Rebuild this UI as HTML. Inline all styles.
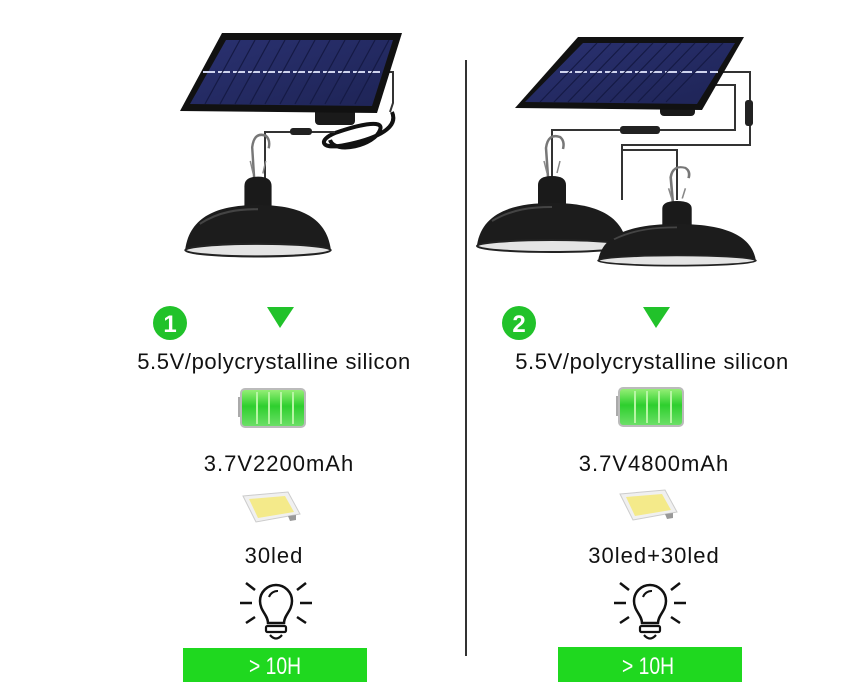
<!DOCTYPE html>
<html><head><meta charset="utf-8"><style>html,body{margin:0;padding:0;background:#fff}svg{display:block}</style></head>
<body>
<svg width="850" height="700" viewBox="0 0 850 700" xmlns="http://www.w3.org/2000/svg" font-family="Liberation Sans, sans-serif">
<defs>
<linearGradient id="cell" x1="0" y1="0" x2="1" y2="1">
<stop offset="0" stop-color="#2a3170"/><stop offset="1" stop-color="#1e2456"/></linearGradient>
<linearGradient id="bat" x1="0" y1="0" x2="0" y2="1">
<stop offset="0" stop-color="#9af07a"/><stop offset="0.45" stop-color="#2ecf2e"/><stop offset="1" stop-color="#6fe06a"/></linearGradient>
<g id="lamp">
<path d="M-4,-26 L-6,-55 Q-4,-70 8,-66 Q13,-62 11,-54" fill="none" stroke="#777" stroke-width="2.5"/>
<path d="M-5,-30 L-8,-42 M5,-30 L8,-42" stroke="#888" stroke-width="1.5"/>
<path d="M-14,2 L-14,-18 Q-14,-27 0,-27 Q14,-27 14,-18 L14,2 Z" fill="#1a1a1a"/>
<path d="M-75,42 C-70,10 -40,0 0,0 C40,0 70,10 75,42 Z" fill="#1c1c1c"/>
<path d="M-60,18 C-40,6 -20,4 0,4" fill="none" stroke="#444" stroke-width="2"/>
<ellipse cx="0" cy="43" rx="75" ry="6" fill="#e4e4e4" stroke="#222" stroke-width="2"/>
</g>
<g id="bulb">
<path d="M-8,14 C-8,6 -16,2 -16,-8 A16,16 0 1 1 16,-8 C16,2 8,6 8,14 Z" fill="none" stroke="#111" stroke-width="2.5"/>
<path d="M-7,-12 A9,9 0 0 1 2,-18" fill="none" stroke="#111" stroke-width="2"/>
<rect x="-10" y="17" width="20" height="6" rx="1.5" fill="none" stroke="#111" stroke-width="2.2"/>
<path d="M-6,26 Q0,33 6,26" fill="none" stroke="#111" stroke-width="2.2"/>
<path d="M-36,-6 H-24 M24,-6 H36 M-30,-26 L-21,-19 M30,-26 L21,-19 M-30,14 L-21,8 M30,14 L21,8" stroke="#111" stroke-width="2.5"/>
</g>
<g id="battery">
<rect x="-3" y="8" width="4" height="20" fill="#aaa"/>
<rect x="0" y="0" width="64" height="38" rx="4" fill="url(#bat)" stroke="#bbb" stroke-width="2"/>
<path d="M16,3 V35 M28,3 V35 M40,3 V35 M52,3 V35" stroke="#b7f5a4" stroke-width="2"/>
</g>
<g id="led">
<path d="M5,6 L50,2 L62,24 L18,32 Z" fill="#f0f0f0" stroke="#ccc"/>
<path d="M11,9 L47,6 L56,22 L20,28 Z" fill="#f4ea8a"/>
<path d="M50,26 L58,25 L58,30 L52,31 Z" fill="#999"/>
</g>
</defs>

<line x1="466" y1="60" x2="466" y2="656" stroke="#333" stroke-width="2"/>

<!-- LEFT product -->
<path d="M380,72 H393 V103 L390,112" fill="none" stroke="#333" stroke-width="2"/>
<path d="M392,112 C400,130 370,140 345,145 C320,150 318,140 335,133 C355,126 385,118 380,130 C375,145 335,155 330,140" fill="none" stroke="#111" stroke-width="4"/>
<path d="M265,180 V132 H335" fill="none" stroke="#333" stroke-width="2"/>
<rect x="290" y="128" width="22" height="7" rx="3" fill="#222"/>
<rect x="315" y="105" width="40" height="20" rx="4" fill="#1a1a1a"/>
<path d="M222,33 L402,33 L377,113 L180,111 Z" fill="#111"/>
<path d="M226,40 L393,40 L372,106 L190,104 Z" fill="url(#cell)"/>
<path d="M203,72 L383,72" stroke="#cfd4ee" stroke-width="2" stroke-dasharray="12 3"/>
<g stroke="#151a45" stroke-width="1.2">
<path d="M240,40 L205,104 M255,40 L220,104 M270,40 L235,104 M285,40 L250,104 M300,40 L265,104 M315,40 L280,104 M330,40 L295,104 M345,40 L310,104 M360,40 L325,104 M375,40 L340,104 M389,40 L355,104"/>
</g>
<use href="#lamp" transform="translate(258,205) scale(0.97,1.05)"/>

<!-- RIGHT product -->
<path d="M715,72 H750 V145 H622 V200" fill="none" stroke="#333" stroke-width="2"/>
<rect x="745" y="100" width="8" height="26" rx="3" fill="#222"/>
<path d="M705,85 H735 V130 H552 V180" fill="none" stroke="#333" stroke-width="2"/>
<rect x="620" y="126" width="40" height="8" rx="3" fill="#222"/>
<rect x="660" y="100" width="35" height="16" rx="4" fill="#1a1a1a"/>
<path d="M578,37 L744,37 L702,110 L515,108 Z" fill="#111"/>
<path d="M583,43 L735,43 L697,104 L525,102 Z" fill="url(#cell)"/>
<path d="M560,72 L718,72" stroke="#cfd4ee" stroke-width="2" stroke-dasharray="12 3"/>
<g stroke="#151a45" stroke-width="1.2">
<path d="M597,43 L540,102 M611,43 L554,102 M625,43 L568,102 M639,43 L582,102 M653,43 L596,102 M667,43 L610,102 M681,43 L624,102 M695,43 L638,102 M709,43 L652,102 M723,43 L666,102"/>
</g>
<use href="#lamp" transform="translate(552,203) scale(1.0,1.0)"/>
<path d="M677,200 V150 H622" fill="none" stroke="#333" stroke-width="2"/>
<use href="#lamp" transform="translate(677,224) scale(1.05,0.85)"/>

<g font-size="22" letter-spacing="0.6" fill="#111" text-anchor="middle">
<text x="274" y="369">5.5V/polycrystalline silicon</text>
<text x="279" y="471" letter-spacing="1">3.7V2200mAh</text>
<text x="274" y="563" letter-spacing="1">30led</text>
<text x="652" y="369">5.5V/polycrystalline silicon</text>
<text x="654" y="471" letter-spacing="1">3.7V4800mAh</text>
<text x="654" y="563" letter-spacing="1">30led+30led</text>
</g>

<!-- LEFT specs -->
<circle cx="170" cy="323" r="17" fill="#21c22a"/>
<text x="170" y="332" font-size="24" font-weight="bold" fill="#fff" text-anchor="middle">1</text>
<path d="M267,307 H294 L280,328 Z" fill="#21c22a"/>
<use href="#battery" transform="translate(241,389)"/>
<use href="#led" transform="translate(238,490)"/>
<use href="#bulb" transform="translate(276,609)"/>
<rect x="183" y="648" width="184" height="34" fill="#1fd81f"/>
<text x="275" y="674" font-size="24" fill="#fff" text-anchor="middle" textLength="52" lengthAdjust="spacingAndGlyphs">&gt; 10H</text>

<!-- RIGHT specs -->
<circle cx="519" cy="323" r="17" fill="#21c22a"/>
<text x="519" y="332" font-size="24" font-weight="bold" fill="#fff" text-anchor="middle">2</text>
<path d="M643,307 H670 L656,328 Z" fill="#21c22a"/>
<use href="#battery" transform="translate(619,388)"/>
<use href="#led" transform="translate(615,488)"/>
<use href="#bulb" transform="translate(650,609)"/>
<rect x="558" y="647" width="184" height="35" fill="#1fd81f"/>
<text x="648" y="674" font-size="24" fill="#fff" text-anchor="middle" textLength="52" lengthAdjust="spacingAndGlyphs">&gt; 10H</text>
</svg>
</body></html>
